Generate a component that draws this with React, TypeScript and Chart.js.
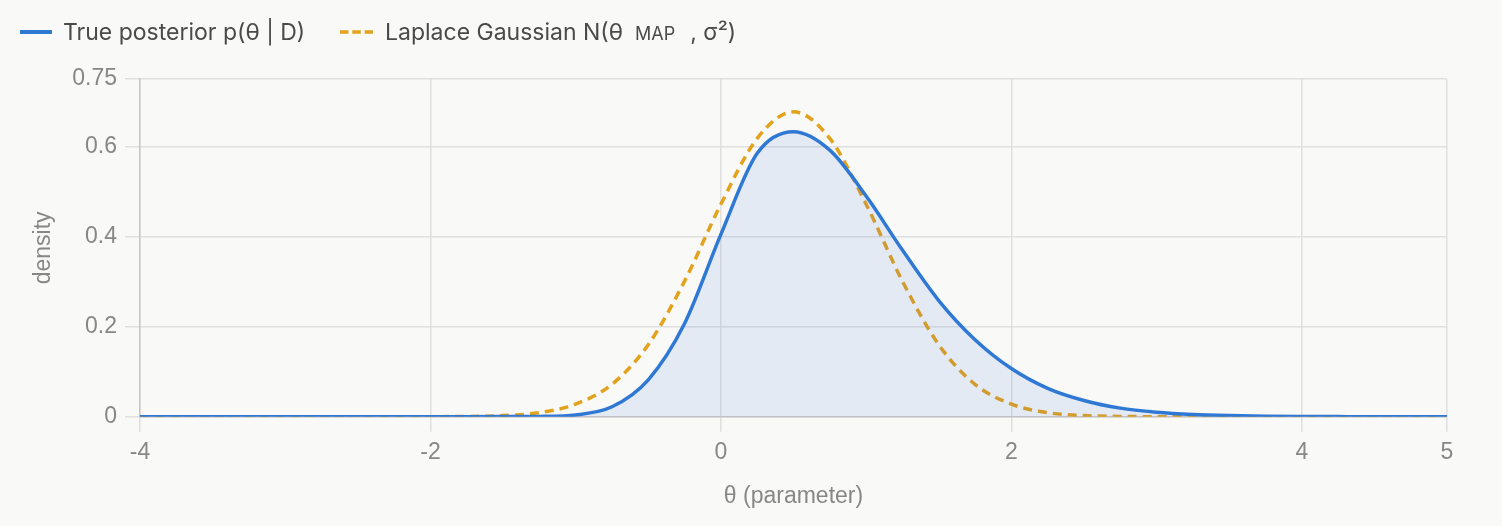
import React, { useEffect, useRef } from 'react';
import { Chart, registerables } from 'chart.js';

Chart.register(...registerables);

// θ grid (parameter values)
const theta = [
  -4, -3.75, -3.5, -3.25, -3, -2.75, -2.5, -2.25, -2, -1.75, -1.5, -1.25, -1,
  -0.75, -0.5, -0.25, 0, 0.25, 0.5, 0.75, 1, 1.25, 1.5, 1.75, 2, 2.25, 2.5,
  2.75, 3, 3.25, 3.5, 3.75, 4, 4.25, 4.5, 4.75, 5,
];

// True posterior p(θ | D)
const truePosterior = [
  0, 0, 0, 0, 0, 0, 0, 0, 0, 0.0001, 0.0002, 0.0007, 0.004,
  0.022, 0.082, 0.207, 0.405, 0.585, 0.633, 0.592, 0.49, 0.37, 0.258, 0.171, 0.107, 0.063, 0.036,
  0.019, 0.01, 0.005, 0.0025, 0.0012, 0.0005, 0.0002, 0.0001, 0, 0,
];

// Laplace Gaussian N(θ_MAP, σ²)
const laplaceGaussian = [
  0, 0, 0, 0, 0, 0, 0, 0, 0.0001, 0.0005, 0.0025, 0.009, 0.028,
  0.072, 0.16, 0.301, 0.472, 0.618, 0.677, 0.618, 0.472, 0.301, 0.16, 0.072, 0.028, 0.009, 0.0025,
  0.0005, 0.0001, 0, 0, 0, 0, 0, 0, 0, 0,
];

const xTicks = [-4, -2, 0, 2, 4, 5];
const yTicks = [0, 0.2, 0.4, 0.6, 0.75];

const seriesNames = ['True posterior p(θ | D)', 'Laplace Gaussian N(θ MAP , σ²)'];
const xTitle = 'θ (parameter)';
const yTitle = 'density';

const BG = '#f9f9f7';
const BLUE = '#2f79d5';
const ORANGE = '#e3a21c';
const TICK = '#878787';
const GRID = '#e0e0e0';
const BORDER = '#c6c6c6';
const FONT = "'Liberation Sans', Arial, sans-serif";

export default function App() {
  const ref = useRef<HTMLCanvasElement>(null);

  useEffect(() => {
    document.body.style.margin = '0';
    document.body.style.background = BG;
    const chart = new Chart(ref.current as HTMLCanvasElement, {
      type: 'line',
      data: {
        datasets: [
          {
            label: seriesNames[0],
            data: theta.map((x, i) => ({ x, y: truePosterior[i] })),
            borderColor: BLUE,
            borderWidth: 3.5,
            backgroundColor: 'rgba(47,111,214,0.1)',
            fill: 'origin',
            pointRadius: 0,
            cubicInterpolationMode: 'monotone',
            order: 1,
          },
          {
            label: seriesNames[1],
            data: theta.map((x, i) => ({ x, y: laplaceGaussian[i] })),
            borderColor: ORANGE,
            borderWidth: 3.5,
            borderDash: [9, 6],
            fill: false,
            pointRadius: 0,
            cubicInterpolationMode: 'monotone',
            order: 2,
          },
        ],
      },
      options: {
        animation: false,
        responsive: false,
        maintainAspectRatio: false,
        layout: { padding: { top: 79, right: 55, left: 0, bottom: 0 } },
        plugins: { legend: { display: false }, tooltip: { enabled: false } },
        scales: {
          x: {
            type: 'linear',
            min: -4,
            max: 5,
            afterBuildTicks: (s: any) => {
              s.ticks = xTicks.map((v) => ({ value: v }));
            },
            afterFit: (s: any) => {
              s.height = 109.3;
            },
            ticks: {
              color: TICK,
              font: { family: FONT, size: 23 },
              padding: 7,
              maxRotation: 0,
              callback: (v: any) => String(v),
            },
            grid: { color: GRID, lineWidth: 1.5, tickLength: 15 },
            border: { color: BORDER, width: 1.5 },
            title: {
              display: true,
              text: xTitle,
              color: TICK,
              font: { family: FONT, size: 23 },
              padding: { top: 0, bottom: 16 },
            },
          },
          y: {
            type: 'linear',
            min: 0,
            max: 0.75,
            afterBuildTicks: (s: any) => {
              s.ticks = yTicks.map((v) => ({ value: v }));
            },
            afterFit: (s: any) => {
              s.width = 140;
            },
            ticks: {
              color: TICK,
              font: { family: FONT, size: 23 },
              padding: 8,
              callback: (v: any) => String(v),
            },
            grid: { color: GRID, lineWidth: 1.5, tickLength: 15 },
            border: { color: BORDER, width: 1.5 },
            title: {
              display: true,
              text: yTitle,
              color: TICK,
              font: { family: FONT, size: 23 },
              padding: { top: 30, bottom: 0 },
            },
          },
        },
      },
    });
    return () => chart.destroy();
  }, []);

  const legendText: React.CSSProperties = {
    fontFamily: "Inter, 'Noto Sans', sans-serif",
    fontSize: 23,
    color: '#4a4a4a',
    whiteSpace: 'nowrap',
    display: 'flex',
    alignItems: 'baseline',
  };

  return (
    <div style={{ position: 'relative', width: 1502, height: 526, background: BG, overflow: 'hidden' }}>
      <canvas ref={ref} width={1502} height={526} style={{ display: 'block' }} />
      <div style={{ position: 'absolute', left: 20, top: 16, height: 32, display: 'flex', alignItems: 'center' }}>
        <div style={{ width: 32, height: 3.5, background: BLUE, marginRight: 11 }} />
        <span style={legendText}>{seriesNames[0]}</span>
      </div>
      <div style={{ position: 'absolute', left: 340, top: 16, height: 32, display: 'flex', alignItems: 'center' }}>
        <svg width={33} height={4} style={{ marginRight: 12 }}>
          <line x1={0} y1={2} x2={33} y2={2} stroke={ORANGE} strokeWidth={3.5} strokeDasharray="8.5 3.8" />
        </svg>
        <span style={legendText}>
          <span>Laplace Gaussian N(θ</span>
          <span style={{ fontSize: 18, marginLeft: 12 }}>MAP</span>
          <span style={{ marginLeft: 15 }}>, σ²)</span>
        </span>
      </div>
    </div>
  );
}
